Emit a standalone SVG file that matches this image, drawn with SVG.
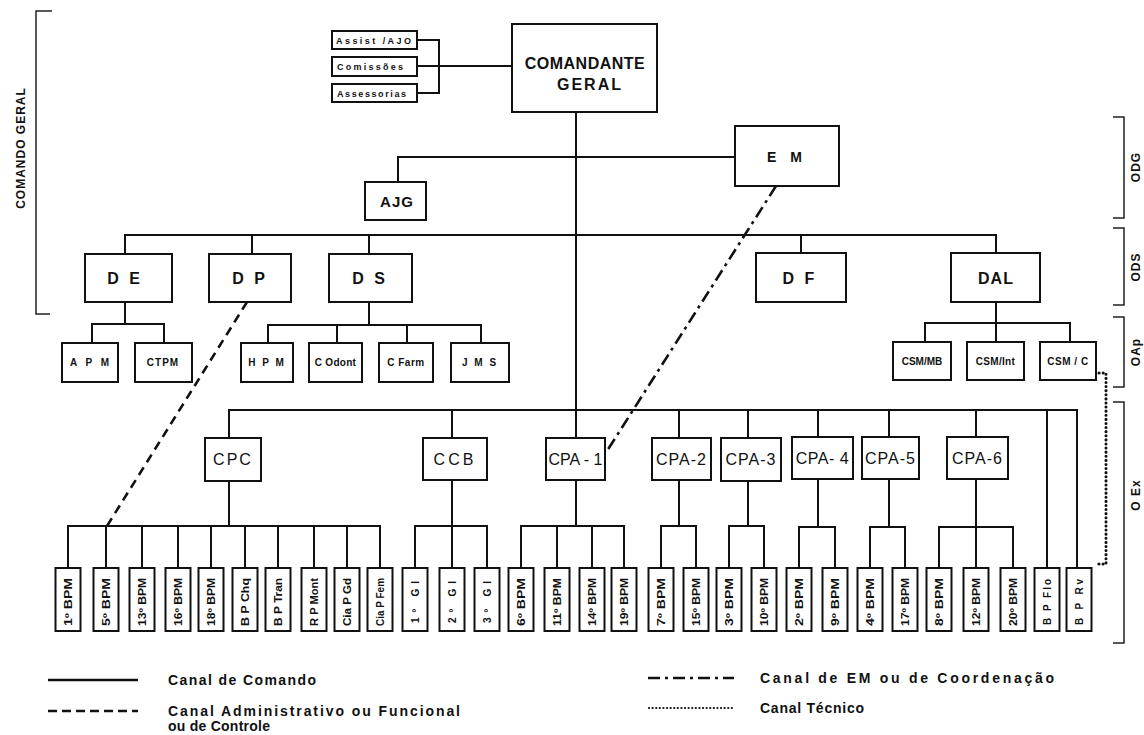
<svg xmlns="http://www.w3.org/2000/svg" width="1144" height="735" viewBox="0 0 1144 735">
<style>
.bx{fill:#fff;stroke:#111;stroke-width:2}
.ln{fill:none;stroke:#111;stroke-width:2}
.br{fill:none;stroke:#222;stroke-width:1.5}
text{font-family:"Liberation Sans",Arial,sans-serif;fill:#111;text-anchor:middle;dominant-baseline:central}
.b{font-weight:bold}
.big{font-size:16px;font-weight:bold;letter-spacing:3px}
.cp{font-size:16px;letter-spacing:1px}
.sm{font-size:10px;font-weight:bold;letter-spacing:1px}
.as{font-size:9px;font-weight:bold;text-anchor:start}
.lf{font-size:10px;font-weight:bold}
.side{font-size:12px;font-weight:bold;letter-spacing:1px}
.lg{font-size:14px;font-weight:bold;text-anchor:start;dominant-baseline:auto}
</style>
<rect width="1144" height="735" fill="#fff"/>

<g id="brackets">
<path class="br" d="M52,11 H36 V314 H50"/>
<text class="side" transform="translate(21,148) rotate(-90)">COMANDO GERAL</text>
<path class="br" d="M1113,117 H1124 V218 H1113"/>
<text class="side" transform="translate(1136,167) rotate(-90)">ODG</text>
<path class="br" d="M1113,228 H1124 V305 H1113"/>
<text class="side" transform="translate(1136,267) rotate(-90)">ODS</text>
<path class="br" d="M1113,317 H1124 V387 H1113"/>
<text class="side" transform="translate(1136,352) rotate(-90)">OAp</text>
<path class="br" d="M1113,402 H1124 V643 H1113"/>
<text class="side" transform="translate(1136,495) rotate(-90)">O Ex</text>
</g>

<g id="connectors">
<path class="ln" d="M417,40 H439 V93 H417 M417,66 H512"/>
<path class="ln" d="M576,112 V438"/>
<path class="ln" d="M398,182 V157 H735"/>
<path class="ln" d="M125,254 V235 H996 V253 M252,235 V254 M369,235 V254 M801,235 V253"/>
<path class="ln" d="M125,302 V324 M92,343 V324 H164 V343"/>
<path class="ln" d="M369,302 V325 M268,343 V325 H481 V343 M337,325 V343 M407,325 V343"/>
<path class="ln" d="M996,302 V323 M925,342 V323 H1070 V342 M996,323 V342"/>
<path class="ln" d="M229,438 V410 H1077 V568 M452,410 V438 M679,410 V438 M748,410 V438 M818,410 V437 M889,410 V437 M976,410 V437 M1047,410 V568"/>
<path class="ln" d="M229,481 V526 M68,568 V526 H380 V568 M106,526 V568 M142,526 V568 M178,526 V568 M211,526 V568 M245,526 V568 M278,526 V568 M314,526 V568 M347,526 V568"/>
<path class="ln" d="M452,480 V526 M415,568 V526 H487 V568 M452,526 V568"/>
<path class="ln" d="M576,480 V526 M521,568 V526 H624 V568 M557,526 V568 M592,526 V568"/>
<path class="ln" d="M679,480 V526 M661,568 V526 H696 V568"/>
<path class="ln" d="M748,481 V526 M729,568 V526 H764 V568"/>
<path class="ln" d="M818,479 V527 M799,568 V527 H835 V568"/>
<path class="ln" d="M889,479 V527 M870,568 V527 H905 V568"/>
<path class="ln" d="M976,479 V527 M939,568 V527 H1013 V568 M976,527 V568"/>
<path fill="none" stroke="#111" stroke-width="2.6" stroke-dasharray="9 6" d="M247,302 L107,526"/>
<path fill="none" stroke="#111" stroke-width="2.6" stroke-dasharray="12 5 3 5" d="M776,186 L607,451"/>
<path fill="none" stroke="#111" stroke-width="3" stroke-linecap="round" stroke-dasharray="0.1 4" d="M1099,373 H1106 V564 H1097"/>
</g>

<g id="n-assist"><rect class="bx" x="332" y="31" width="85" height="18"/><text class="as" x="336" y="40.5" textLength="75" lengthAdjust="spacing">Assist /AJO</text></g>
<g id="n-comissoes"><rect class="bx" x="332" y="57" width="85" height="19"/><text class="as" x="337" y="66.5" textLength="66" lengthAdjust="spacing">Comissões</text></g>
<g id="n-assessorias"><rect class="bx" x="332" y="84" width="85" height="18"/><text class="as" x="337" y="93.5" textLength="69" lengthAdjust="spacing">Assessorias</text></g>
<g id="n-cg"><rect class="bx" x="512" y="24" width="145" height="88"/><text class="b" x="585" y="63" style="font-size:16px;letter-spacing:0.5px">COMANDANTE</text><text class="b" x="590" y="84" style="font-size:16px;letter-spacing:2px">GERAL</text></g>
<g id="n-em"><rect class="bx" x="735" y="126" width="104" height="60"/><text class="b" x="787" y="157" style="font-size:14px;letter-spacing:5px">E M</text></g>
<g id="n-ajg"><rect class="bx" x="365" y="182" width="61" height="38"/><text class="b" x="397" y="201" style="font-size:15px;letter-spacing:1px">AJG</text></g>
<g id="n-de"><rect class="bx" x="85" y="254" width="87" height="48"/><text class="big" x="125" y="278">D E</text></g>
<g id="n-dp"><rect class="bx" x="209" y="254" width="82" height="48"/><text class="big" x="250" y="278">D P</text></g>
<g id="n-ds"><rect class="bx" x="329" y="254" width="83" height="48"/><text class="big" x="370" y="278">D S</text></g>
<g id="n-df"><rect class="bx" x="756" y="253" width="90" height="49"/><text class="big" x="800" y="278">D F</text></g>
<g id="n-dal"><rect class="bx" x="951" y="253" width="89" height="49"/><text class="b" x="996" y="278" style="font-size:16px;letter-spacing:1px">DAL</text></g>
<g id="n-apm"><rect class="bx" x="62" y="343" width="56" height="39"/><text class="sm" x="91" y="362.5" style="letter-spacing:3px">A P M</text></g>
<g id="n-ctpm"><rect class="bx" x="135" y="343" width="57" height="39"/><text class="sm" x="163" y="362.5">CTPM</text></g>
<g id="n-hpm"><rect class="bx" x="241" y="343" width="52" height="39"/><text class="sm" x="267" y="362.5" style="letter-spacing:2px">H P M</text></g>
<g id="n-codont"><rect class="bx" x="309" y="343" width="53" height="39"/><text class="sm" x="335.5" y="362.5" style="letter-spacing:0.3px">C Odont</text></g>
<g id="n-cfarm"><rect class="bx" x="379" y="343" width="54" height="39"/><text class="sm" x="406" y="362.5" style="letter-spacing:0.5px">C Farm</text></g>
<g id="n-jms"><rect class="bx" x="451" y="343" width="58" height="39"/><text class="sm" x="480" y="362.5" style="letter-spacing:2px">J M S</text></g>
<g id="n-csmmb"><rect class="bx" x="893" y="342" width="58" height="38"/><text class="sm" x="922" y="361" style="letter-spacing:0px">CSM/MB</text></g>
<g id="n-csmint"><rect class="bx" x="967" y="342" width="57" height="38"/><text class="sm" x="995.5" y="361" style="letter-spacing:0.3px">CSM/Int</text></g>
<g id="n-csmc"><rect class="bx" x="1040" y="342" width="56" height="38"/><text class="sm" x="1068" y="361" style="letter-spacing:0.5px">CSM / C</text></g>

<g id="n-cpc"><rect class="bx" x="205" y="438" width="56" height="43"/><text class="cp" x="233" y="459.5" style="letter-spacing:2px">CPC</text></g>
<g id="n-ccb"><rect class="bx" x="423" y="438" width="64" height="42"/><text class="cp" x="455" y="459" style="letter-spacing:3px">CCB</text></g>
<g id="n-cpa1"><rect class="bx" x="546" y="438" width="59" height="42"/><text class="cp" x="575.5" y="459" style="letter-spacing:0px">CPA - 1</text></g>
<g id="n-cpa2"><rect class="bx" x="652" y="438" width="59" height="42"/><text class="cp" x="681.5" y="459">CPA-2</text></g>
<g id="n-cpa3"><rect class="bx" x="721" y="438" width="60" height="43"/><text class="cp" x="751" y="459.5">CPA-3</text></g>
<g id="n-cpa4"><rect class="bx" x="792" y="437" width="61" height="42"/><text class="cp" x="822.5" y="458" style="letter-spacing:0.5px">CPA- 4</text></g>
<g id="n-cpa5"><rect class="bx" x="862" y="437" width="57" height="42"/><text class="cp" x="890.5" y="458">CPA-5</text></g>
<g id="n-cpa6"><rect class="bx" x="947" y="437" width="61" height="42"/><text class="cp" x="977.5" y="458">CPA-6</text></g>

<g id="leaf-1bpm"><rect class="bx" x="55.5" y="568" width="25" height="63"/><text class="lf" transform="translate(68,602) rotate(-90)" textLength="48" lengthAdjust="spacingAndGlyphs">1º  BPM</text></g>
<g id="leaf-5bpm"><rect class="bx" x="93.5" y="568" width="25" height="63"/><text class="lf" transform="translate(106,602) rotate(-90)" textLength="48" lengthAdjust="spacingAndGlyphs">5º  BPM</text></g>
<g id="leaf-13bpm"><rect class="bx" x="129.5" y="568" width="25" height="63"/><text class="lf" transform="translate(142,602) rotate(-90)" textLength="48" lengthAdjust="spacingAndGlyphs">13º BPM</text></g>
<g id="leaf-16bpm"><rect class="bx" x="165.5" y="568" width="25" height="63"/><text class="lf" transform="translate(178,602) rotate(-90)" textLength="48" lengthAdjust="spacingAndGlyphs">16º BPM</text></g>
<g id="leaf-18bpm"><rect class="bx" x="198.5" y="568" width="25" height="63"/><text class="lf" transform="translate(211,602) rotate(-90)" textLength="48" lengthAdjust="spacingAndGlyphs">18º BPM</text></g>
<g id="leaf-bpchq"><rect class="bx" x="232.5" y="568" width="25" height="63"/><text class="lf" transform="translate(245,602) rotate(-90)" textLength="48" lengthAdjust="spacingAndGlyphs">B P Chq</text></g>
<g id="leaf-bptran"><rect class="bx" x="265.5" y="568" width="25" height="63"/><text class="lf" transform="translate(278,602) rotate(-90)" textLength="48" lengthAdjust="spacingAndGlyphs">B P Tran</text></g>
<g id="leaf-rpmont"><rect class="bx" x="301.5" y="568" width="25" height="63"/><text class="lf" transform="translate(314,602) rotate(-90)" textLength="48" lengthAdjust="spacingAndGlyphs">R P Mont</text></g>
<g id="leaf-ciapgd"><rect class="bx" x="334.5" y="568" width="25" height="63"/><text class="lf" transform="translate(347,602) rotate(-90)" textLength="48" lengthAdjust="spacingAndGlyphs">Cia P Gd</text></g>
<g id="leaf-ciapfem"><rect class="bx" x="367.5" y="568" width="25" height="63"/><text class="lf" transform="translate(380,602) rotate(-90)" textLength="48" lengthAdjust="spacingAndGlyphs">Cia P Fem</text></g>
<g id="leaf-1gi"><rect class="bx" x="402.5" y="568" width="25" height="63"/><text class="lf" transform="translate(415,602) rotate(-90)" textLength="42" lengthAdjust="spacing">1º  GI</text></g>
<g id="leaf-2gi"><rect class="bx" x="439.5" y="568" width="25" height="63"/><text class="lf" transform="translate(452,602) rotate(-90)" textLength="42" lengthAdjust="spacing">2º  GI</text></g>
<g id="leaf-3gi"><rect class="bx" x="474.5" y="568" width="25" height="63"/><text class="lf" transform="translate(487,602) rotate(-90)" textLength="42" lengthAdjust="spacing">3º  GI</text></g>
<g id="leaf-6bpm"><rect class="bx" x="508.5" y="568" width="25" height="63"/><text class="lf" transform="translate(521,602) rotate(-90)" textLength="48" lengthAdjust="spacingAndGlyphs">6º  BPM</text></g>
<g id="leaf-11bpm"><rect class="bx" x="544.5" y="568" width="25" height="63"/><text class="lf" transform="translate(557,602) rotate(-90)" textLength="48" lengthAdjust="spacingAndGlyphs">11º BPM</text></g>
<g id="leaf-14bpm"><rect class="bx" x="579.5" y="568" width="25" height="63"/><text class="lf" transform="translate(592,602) rotate(-90)" textLength="48" lengthAdjust="spacingAndGlyphs">14º BPM</text></g>
<g id="leaf-19bpm"><rect class="bx" x="611.5" y="568" width="25" height="63"/><text class="lf" transform="translate(624,602) rotate(-90)" textLength="48" lengthAdjust="spacingAndGlyphs">19º BPM</text></g>
<g id="leaf-7bpm"><rect class="bx" x="648.5" y="568" width="25" height="63"/><text class="lf" transform="translate(661,602) rotate(-90)" textLength="48" lengthAdjust="spacingAndGlyphs">7º  BPM</text></g>
<g id="leaf-15bpm"><rect class="bx" x="683.5" y="568" width="25" height="63"/><text class="lf" transform="translate(696,602) rotate(-90)" textLength="48" lengthAdjust="spacingAndGlyphs">15º BPM</text></g>
<g id="leaf-3bpm"><rect class="bx" x="716.5" y="568" width="25" height="63"/><text class="lf" transform="translate(729,602) rotate(-90)" textLength="48" lengthAdjust="spacingAndGlyphs">3º  BPM</text></g>
<g id="leaf-10bpm"><rect class="bx" x="751.5" y="568" width="25" height="63"/><text class="lf" transform="translate(764,602) rotate(-90)" textLength="48" lengthAdjust="spacingAndGlyphs">10º BPM</text></g>
<g id="leaf-2bpm"><rect class="bx" x="786.5" y="568" width="25" height="63"/><text class="lf" transform="translate(799,602) rotate(-90)" textLength="48" lengthAdjust="spacingAndGlyphs">2º  BPM</text></g>
<g id="leaf-9bpm"><rect class="bx" x="822.5" y="568" width="25" height="63"/><text class="lf" transform="translate(835,602) rotate(-90)" textLength="48" lengthAdjust="spacingAndGlyphs">9º  BPM</text></g>
<g id="leaf-4bpm"><rect class="bx" x="857.5" y="568" width="25" height="63"/><text class="lf" transform="translate(870,602) rotate(-90)" textLength="48" lengthAdjust="spacingAndGlyphs">4º  BPM</text></g>
<g id="leaf-17bpm"><rect class="bx" x="892.5" y="568" width="25" height="63"/><text class="lf" transform="translate(905,602) rotate(-90)" textLength="48" lengthAdjust="spacingAndGlyphs">17º BPM</text></g>
<g id="leaf-8bpm"><rect class="bx" x="926.5" y="568" width="25" height="63"/><text class="lf" transform="translate(939,602) rotate(-90)" textLength="48" lengthAdjust="spacingAndGlyphs">8º  BPM</text></g>
<g id="leaf-12bpm"><rect class="bx" x="963.5" y="568" width="25" height="63"/><text class="lf" transform="translate(976,602) rotate(-90)" textLength="48" lengthAdjust="spacingAndGlyphs">12º BPM</text></g>
<g id="leaf-20bpm"><rect class="bx" x="1000.5" y="568" width="25" height="63"/><text class="lf" transform="translate(1013,602) rotate(-90)" textLength="48" lengthAdjust="spacingAndGlyphs">20º BPM</text></g>
<g id="leaf-bpflo"><rect class="bx" x="1034.5" y="568" width="25" height="63"/><text class="lf" transform="translate(1047,602) rotate(-90)" textLength="46" lengthAdjust="spacing">B P Flo</text></g>
<g id="leaf-bprv"><rect class="bx" x="1066.5" y="568" width="25" height="63"/><text class="lf" transform="translate(1079,602) rotate(-90)" textLength="46" lengthAdjust="spacing">B P Rv</text></g>

<g id="legend">
<path fill="none" stroke="#111" stroke-width="2.6" d="M48,680 H138"/>
<text class="lg" x="168" y="685" textLength="148" lengthAdjust="spacing">Canal de Comando</text>
<path fill="none" stroke="#111" stroke-width="2.6" stroke-dasharray="9 5" d="M48,711 H138"/>
<text class="lg" x="168" y="716" textLength="292" lengthAdjust="spacing">Canal Administrativo ou Funcional</text>
<text class="lg" x="168" y="731" textLength="102" lengthAdjust="spacing">ou de Controle</text>
<path fill="none" stroke="#111" stroke-width="2.6" stroke-dasharray="12 5 3 5" d="M648,678 H734"/>
<text class="lg" x="760" y="683" textLength="294" lengthAdjust="spacing">Canal de EM ou de Coordenação</text>
<path fill="none" stroke="#111" stroke-width="2.2" stroke-linecap="round" stroke-dasharray="0.1 3.5" d="M649,708 H733"/>
<text class="lg" x="760" y="713" textLength="104" lengthAdjust="spacing">Canal Técnico</text>
</g>
</svg>
